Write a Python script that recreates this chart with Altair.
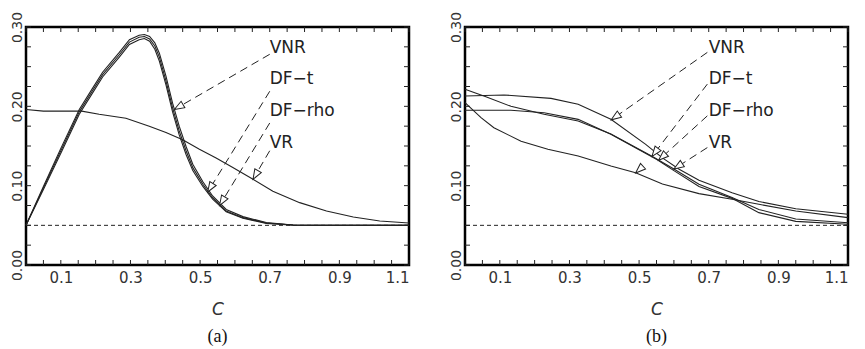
import math
import altair as alt
import pandas as pd

# ---------------- Panel (a) ----------------
a_c = [0, 0.05, 0.10, 0.153, 0.19, 0.22, 0.268, 0.297, 0.325, 0.34, 0.355, 0.37, 0.383,
       0.402, 0.421, 0.44, 0.46, 0.479, 0.508, 0.536, 0.575, 0.623, 0.69, 0.767, 0.85, 1.1]
a_vnr = [0.050, 0.099, 0.147, 0.196, 0.222, 0.243, 0.268, 0.284, 0.2895, 0.2905, 0.288, 0.280, 0.267,
         0.238, 0.204, 0.175, 0.149, 0.127, 0.105, 0.087, 0.070, 0.061, 0.0535, 0.0505, 0.050, 0.050]
a_dft = [0.050, 0.097, 0.144, 0.193, 0.219, 0.240, 0.265, 0.281, 0.287, 0.288, 0.285, 0.276, 0.262,
         0.232, 0.198, 0.169, 0.1437, 0.1227, 0.1017, 0.0848, 0.068, 0.0597, 0.053, 0.0504, 0.050, 0.050]
a_dfrho = [0.050, 0.095, 0.141, 0.190, 0.216, 0.237, 0.262, 0.278, 0.284, 0.2855, 0.282, 0.272, 0.257,
           0.227, 0.193, 0.164, 0.139, 0.119, 0.099, 0.083, 0.067, 0.059, 0.0525, 0.0503, 0.050, 0.050]
a_vr_c = [0, 0.05, 0.10, 0.16, 0.21, 0.287, 0.354, 0.402, 0.45, 0.498, 0.546, 0.594, 0.652,
          0.709, 0.786, 0.863, 0.94, 1.016, 1.1]
a_vr = [0.196, 0.194, 0.194, 0.194, 0.190, 0.185, 0.175, 0.167, 0.158, 0.146, 0.135, 0.123, 0.108,
        0.093, 0.0786, 0.068, 0.0605, 0.0555, 0.053]

# ---------------- Panel (b) ----------------
b_vnr_c = [0, 0.112, 0.247, 0.325, 0.419, 0.519, 0.567, 0.615, 0.672, 0.767, 0.844, 0.95, 1.1]
b_vnr = [0.213, 0.2143, 0.210, 0.2026, 0.1836, 0.152, 0.135, 0.1206, 0.1067, 0.091, 0.080, 0.071, 0.0639]
b_dft_c = [0, 0.06, 0.132, 0.227, 0.325, 0.419, 0.537, 0.60, 0.672, 0.767, 0.844, 0.95, 1.1]
b_dft = [0.2215, 0.212, 0.200, 0.190, 0.1815, 0.165, 0.137, 0.121, 0.1017, 0.085, 0.070, 0.058, 0.0533]
b_dfrho_c = [0, 0.132, 0.227, 0.325, 0.419, 0.551, 0.60, 0.672, 0.767, 0.844, 0.95, 1.1]
b_dfrho = [0.195, 0.195, 0.192, 0.1836, 0.1647, 0.133, 0.119, 0.099, 0.084, 0.066, 0.055, 0.0513]
b_vr_c = [0, 0.046, 0.083, 0.161, 0.238, 0.325, 0.419, 0.49, 0.567, 0.672, 0.767, 0.844, 0.95, 1.1]
b_vr = [0.2046, 0.1857, 0.173, 0.156, 0.146, 0.1374, 0.1248, 0.1163, 0.102, 0.090, 0.0828, 0.0765, 0.068, 0.0597]

# ---------------- Annotations ----------------
ann_labels = ["VNR", "DF\u2212t", "DF\u2212rho", "VR"]
label_c = 0.70
label_v = [0.274, 0.234, 0.194, 0.154]

a_lead_c = 0.70
a_lead_v = [0.2656, 0.219, 0.179, 0.144]
a_tip_c = [0.426, 0.522, 0.556, 0.652]
a_tip_v = [0.196, 0.092, 0.075, 0.108]

b_lead_c = 0.696
b_lead_v = [0.268, 0.228, 0.188, 0.148]
b_tip_c = [0.42, 0.537, 0.556, 0.60]
b_tip_v = [0.183, 0.137, 0.132, 0.121]
b_extra_tip_c = [0.49]
b_extra_tip_v = [0.116]

ref_level = 0.05
x_labels = [0.1, 0.3, 0.5, 0.7, 0.9, 1.1]
y_labels = [0.0, 0.1, 0.2, 0.3]
x_minor = [round(i * 0.05, 2) for i in range(23)]
y_minor = [round(i * 0.025, 3) for i in range(13)]

W, H = 383, 238
XMAX, YMAX = 1.1, 0.3
INK = "#222"
ARROW = "M0,0L2,-0.75L2,0.75Z"

XS = alt.Scale(domain=[0, XMAX], nice=False, zero=False)
YS = alt.Scale(domain=[0, YMAX], nice=False, zero=False)


def xenc(field):
    return alt.X(field, type="quantitative", scale=XS, title="C",
                 axis=alt.Axis(values=x_labels, format=".1f", title="C"))


def yenc(field):
    return alt.Y(field, type="quantitative", scale=YS, title=None,
                 axis=alt.Axis(values=y_labels, format=".2f", title=None))


def angle_of(tc, tv, sc, sv):
    dx = (sc - tc) * W / XMAX
    dy = -(sv - tv) * H / YMAX
    return math.degrees(math.atan2(dy, dx)) % 360


def panel(curves, lead_c, lead_v, tip_c, tip_v, extra, tag):
    rows = []
    for name, cs, vs in curves:
        for c, v in zip(cs, vs):
            rows.append({"series": name, "c": c, "v": v})
    df = pd.DataFrame(rows)

    lines = alt.Chart(df).mark_line(color=INK, strokeWidth=1.1).encode(
        x=xenc("c"), y=yenc("v"), detail="series:N", order="c:Q",
    )

    ref = alt.Chart(pd.DataFrame({"v": [ref_level]})).mark_rule(
        color=INK, strokeWidth=1, strokeDash=[4, 3]
    ).encode(y=yenc("v"))

    lead_df = pd.DataFrame({
        "c": [lead_c] * len(tip_c), "v": lead_v, "c2": tip_c, "v2": tip_v,
    })
    leaders = alt.Chart(lead_df).mark_rule(
        color=INK, strokeWidth=1, strokeDash=[8, 5]
    ).encode(x=xenc("c"), y=yenc("v"), x2="c2:Q", y2="v2:Q")

    tc = list(tip_c) + list(extra[0])
    tv = list(tip_v) + list(extra[1])
    angs = [angle_of(c, v, lead_c, lv) for c, v, lv in zip(tip_c, tip_v, lead_v)]
    if extra[0]:
        angs += [angs[2]] * len(extra[0])
    tri_df = pd.DataFrame({"c": tc, "v": tv, "ang": angs})
    tris = alt.Chart(tri_df).mark_point(
        shape=ARROW, size=100, filled=True, fill="white", stroke=INK, strokeWidth=1, opacity=1
    ).encode(x=xenc("c"), y=yenc("v"), angle=alt.Angle("ang:Q", scale=None))

    lab_df = pd.DataFrame({"t": ann_labels, "c": [label_c] * 4, "v": label_v})
    labels = alt.Chart(lab_df).mark_text(
        align="left", baseline="middle", font="DejaVu Sans", fontSize=17, color=INK
    ).encode(x=xenc("c"), y=yenc("v"), text="t:N")

    xt = pd.DataFrame({"c": x_minor})
    yt = pd.DataFrame({"v": y_minor})
    tick_style = dict(color=INK, strokeWidth=1)
    tb = alt.Chart(xt).mark_rule(**tick_style).encode(
        x=xenc("c"), y=alt.value(H), y2=alt.value(H - 5))
    tt = alt.Chart(xt).mark_rule(**tick_style).encode(
        x=xenc("c"), y=alt.value(0), y2=alt.value(5))
    tl = alt.Chart(yt).mark_rule(**tick_style).encode(
        y=yenc("v"), x=alt.value(0), x2=alt.value(5))
    tr = alt.Chart(yt).mark_rule(**tick_style).encode(
        y=yenc("v"), x=alt.value(W), x2=alt.value(W - 5))

    return alt.layer(lines, ref, leaders, tris, labels, tb, tt, tl, tr).properties(
        width=W, height=H,
        title=alt.TitleParams(text=tag, orient="bottom", frame="group", font="Liberation Serif",
                              fontSize=18, fontWeight="normal", color="#111", offset=11),
    )


pa = panel([("VNR", a_c, a_vnr), ("DF-t", a_c, a_dft), ("DF-rho", a_c, a_dfrho), ("VR", a_vr_c, a_vr)],
           a_lead_c, a_lead_v, a_tip_c, a_tip_v, ([], []), "(a)")
pb = panel([("VNR", b_vnr_c, b_vnr), ("DF-t", b_dft_c, b_dft), ("DF-rho", b_dfrho_c, b_dfrho),
            ("VR", b_vr_c, b_vr)],
           b_lead_c, b_lead_v, b_tip_c, b_tip_v, (b_extra_tip_c, b_extra_tip_v), "(b)")

chart = alt.hconcat(pa, pb, spacing=56, bounds="flush").properties(
    padding={"left": 0, "top": 2, "right": 5, "bottom": 0}
).configure_view(
    stroke="#000", strokeWidth=2.5
).configure_axis(
    domain=False, ticks=False, tickSize=0, grid=False,
    labelFont="DejaVu Sans", labelFontSize=15, labelColor="#333",
    titleFont="DejaVu Sans", titleFontSize=17, titleFontStyle="italic",
    titleFontWeight="normal", titleColor="#333",
).configure_axisX(
    labelPadding=5, titlePadding=16,
).configure_axisY(
    labelFontSize=14, labelAngle=270, labelAlign="center", labelBaseline="bottom", labelPadding=2,
)

chart.save("out.html", embed_options={"renderer": "svg", "actions": False})
